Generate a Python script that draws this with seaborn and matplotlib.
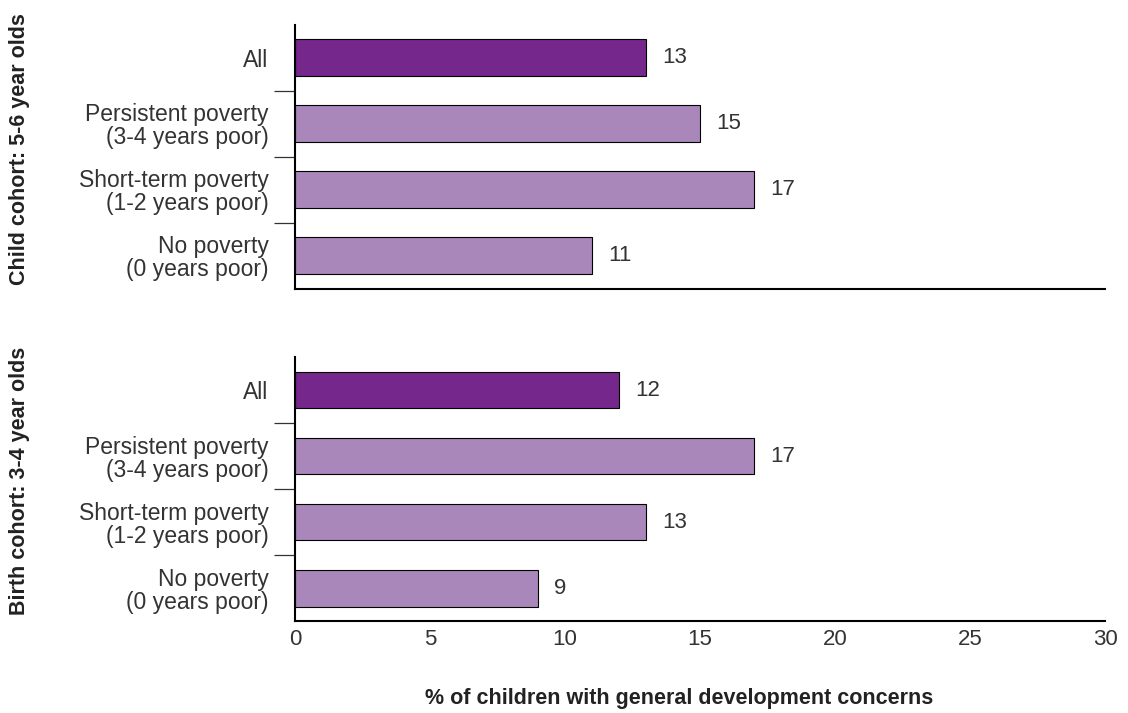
import seaborn as sns
import matplotlib.pyplot as plt
import pandas as pd

categories = ['All', 'Persistent poverty\n(3-4 years poor)',
              'Short-term poverty\n(1-2 years poor)', 'No poverty\n(0 years poor)']
child_values = [13, 15, 17, 11]
birth_values = [12, 17, 13, 9]
panel_titles = ['Child cohort: 5-6 year olds', 'Birth cohort: 3-4 year olds']
x_ticks = [0, 5, 10, 15, 20, 25, 30]

dark = '#76278B'
light = '#AA87BB'
bar_colors = [dark, light, light, light]

sns.set_style('white')
plt.rcParams['font.family'] = ['Liberation Sans', 'DejaVu Sans']

fig = plt.figure(figsize=(11.28, 7.13), dpi=100)
ax1 = fig.add_axes([0.2615, 0.5947, 0.7181, 0.3703])
ax2 = fig.add_axes([0.2615, 0.1290, 0.7181, 0.3703])

for ax, vals, title in zip([ax1, ax2], [child_values, birth_values], panel_titles):
    df = pd.DataFrame({'cat': categories, 'val': vals})
    sns.barplot(data=df, x='val', y='cat', hue='cat', palette=bar_colors,
                orient='h', width=0.56, edgecolor='black', linewidth=0.8,
                saturation=1, legend=False, ax=ax)
    for i, v in enumerate(vals):
        ax.text(v + 0.6, i, str(v), va='center', ha='left', fontsize=16, color='#333333')
    ax.set_xlim(0, 30)
    ax.set_ylim(3.5, -0.5)
    ax.set_ylabel(title, fontsize=15.5, fontweight='bold', color='#222222', labelpad=0)
    ax.yaxis.set_label_coords(-0.327, 0.53)
    ax.set_xlabel('')
    ax.tick_params(axis='y', which='major', length=0, pad=19, labelsize=16.5, labelcolor='#333333')
    for lab in ax.get_yticklabels():
        lab.set_linespacing(1.0)
    ax.set_yticks([0.5, 1.5, 2.5], minor=True)
    ax.tick_params(axis='y', which='minor', length=15, width=0.9, color='#333333', left=True)
    for s in ['top', 'right']:
        ax.spines[s].set_visible(False)
    for s in ['left', 'bottom']:
        ax.spines[s].set_color('black')
        ax.spines[s].set_linewidth(1.5)

ax1.set_xticks(x_ticks)
ax1.tick_params(axis='x', length=0, labelbottom=False)
ax2.set_xticks(x_ticks)
ax2.tick_params(axis='x', length=0, pad=6, labelsize=16, labelcolor='#333333')
ax2.set_xlabel('')
fig.text(0.602, 0.021, '% of children with general development concerns', fontsize=15.5,
         fontweight='bold', color='#222222', ha='center', va='center')

fig.savefig('out.png', dpi=100)
